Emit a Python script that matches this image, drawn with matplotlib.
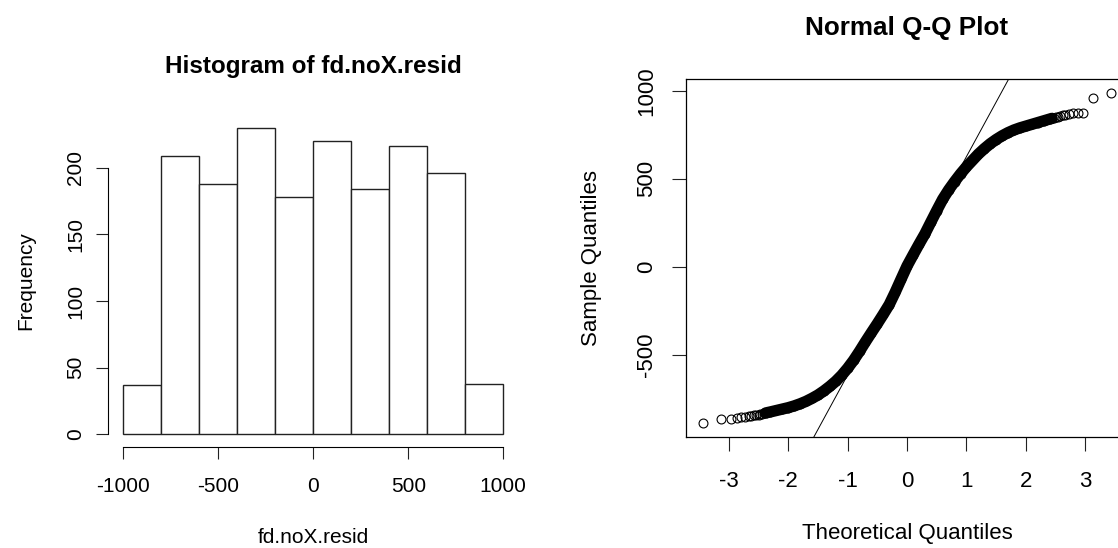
import numpy as np
import matplotlib
matplotlib.use("Agg")
import matplotlib.pyplot as plt

# ---------------- data ----------------
HIST_EDGES = [-1000, -800, -600, -400, -200, 0, 200, 400, 600, 800, 1000]
HIST_COUNTS = [37, 209, 188, 230, 178, 220, 184, 216, 196, 38]
HIST_XTICKS = [-1000, -500, 0, 500, 1000]
HIST_YTICKS = [0, 50, 100, 150, 200]

QQ_THEORETICAL = [
    -3.44, -3.13, -2.97, -2.87, -2.79, -2.72, -2.66, -2.62, -2.575, -2.535,
    -2.50, -2.47, -2.44, -2.41, -2.38, -2.3, -2.2, -2.1, -2.0,
    -1.9, -1.8, -1.7, -1.6, -1.5, -1.4, -1.3, -1.2, -1.1, -1.0,
    -0.9, -0.8, -0.7, -0.6, -0.5, -0.4, -0.3, -0.2, -0.1, 0.0,
    0.1, 0.2, 0.3, 0.4, 0.5, 0.6, 0.7, 0.8, 0.9, 1.0,
    1.1, 1.2, 1.3, 1.4, 1.5, 1.6, 1.7, 1.8, 1.9, 2.0,
    2.1, 2.2, 2.3, 2.38, 2.41, 2.44, 2.47, 2.50, 2.535, 2.575,
    2.62, 2.66, 2.72, 2.79, 2.87, 2.97, 3.13, 3.44,
]
QQ_SAMPLE = [
    -888, -866, -861, -857, -854, -851, -848, -845, -843, -840,
    -838, -836, -834, -831, -829, -823, -815, -807, -799,
    -789, -777, -763, -746, -727, -704, -678, -649, -615, -575,
    -530, -479, -425, -373, -322, -269, -214, -144, -69, 5,
    67, 128, 187, 254, 320, 384, 437, 484, 528, 568,
    604, 640, 671, 699, 723, 744, 762, 777, 789, 799,
    809, 819, 829, 837, 840, 843, 846, 849, 853, 857,
    861, 864, 868, 872, 874, 876, 957, 985,
]
QQ_QUARTILE_T = [-0.674, 0.674]
QQ_QUARTILE_S = [-411, 424]
QQ_XTICKS = [-3, -2, -1, 0, 1, 2, 3]
QQ_YTICKS = [-500, 0, 500, 1000]

# ---------------- figure ----------------
W, H = 1118, 548
plt.rcParams['font.family'] = ['Liberation Sans', 'DejaVu Sans']
plt.rcParams['axes.unicode_minus'] = False
fig = plt.figure(figsize=(W / 100, H / 100), dpi=100)
fig.patch.set_facecolor('white')


def fx(x):
    return x / W


def fy(y):
    return 1 - y / H


# ---------- histogram ----------
ax1 = fig.add_axes([fx(108), fy(446.5), 410.5 / W, 331 / H])
edges = np.array(HIST_EDGES, dtype=float)
ax1.bar(edges[:-1], HIST_COUNTS, width=np.diff(edges), align='edge',
        facecolor='white', edgecolor='#222222', linewidth=1.0)
ax1.set_xlim(-1080, 1080)
ax1.set_ylim(-9.2, 239.2)
for side in ('top', 'right'):
    ax1.spines[side].set_visible(False)
ax1.spines['left'].set_bounds(HIST_YTICKS[0], HIST_YTICKS[-1])
ax1.spines['bottom'].set_bounds(HIST_XTICKS[0], HIST_XTICKS[-1])
for sp in ax1.spines.values():
    sp.set_linewidth(0.8)
ax1.set_xticks(HIST_XTICKS)
ax1.set_yticks(HIST_YTICKS)
ax1.tick_params(axis='both', direction='out', length=8.6, width=0.8,
                labelsize=15, color='#222222')
ax1.tick_params(axis='x', pad=13)
ax1.tick_params(axis='y', pad=8)
plt.setp(ax1.get_yticklabels(), rotation=90, va='center')

fig.text(fx(313.25), fy(73), 'Histogram of fd.noX.resid', ha='center',
         va='baseline', fontsize=17.5, fontweight='bold')
fig.text(fx(313.25), fy(543), 'fd.noX.resid', ha='center', va='baseline',
         fontsize=15)
fig.text(fx(31.7), fy(281), 'Frequency', rotation=90, rotation_mode='anchor',
         ha='center', va='baseline', fontsize=15)

# ---------- QQ plot ----------
ax2 = fig.add_axes([fx(685.7), fy(436.7), 442.7 / W, 357.4 / H])
t = np.array(QQ_THEORETICAL)
s = np.array(QQ_SAMPLE)
dense = (t >= -2.38) & (t <= 2.44)
ax2.plot(t[dense], s[dense], color='black', lw=8.2,
         solid_capstyle='round', solid_joinstyle='round', zorder=2)
ax2.plot(t, s, linestyle='none', marker='o', markersize=6.4,
         markerfacecolor='none', markeredgecolor='black',
         markeredgewidth=0.8, zorder=3)
ax2.axline((QQ_QUARTILE_T[0], QQ_QUARTILE_S[0]),
           (QQ_QUARTILE_T[1], QQ_QUARTILE_S[1]),
           color='black', lw=0.7, zorder=4)
ax2.set_xlim(-3.726, 3.726)
ax2.set_ylim(-963.7, 1064.7)
for sp in ax2.spines.values():
    sp.set_linewidth(0.9)
ax2.set_xticks(QQ_XTICKS)
ax2.set_yticks(QQ_YTICKS)
ax2.tick_params(axis='both', direction='out', length=10, width=0.8,
                labelsize=16, color='#222222')
ax2.tick_params(axis='x', pad=14.5)
ax2.tick_params(axis='y', pad=10.4)
plt.setp(ax2.get_yticklabels(), rotation=90, va='center')

fig.text(fx(907), fy(35), 'Normal Q-Q Plot', ha='center', va='baseline',
         fontsize=18.8, fontweight='bold')
fig.text(fx(907), fy(539.5), 'Theoretical Quantiles', ha='center',
         va='baseline', fontsize=16)
fig.text(fx(597), fy(258), 'Sample Quantiles', rotation=90,
         rotation_mode='anchor', ha='center', va='baseline', fontsize=16)

fig.savefig('out.png', dpi=100, facecolor='white')
